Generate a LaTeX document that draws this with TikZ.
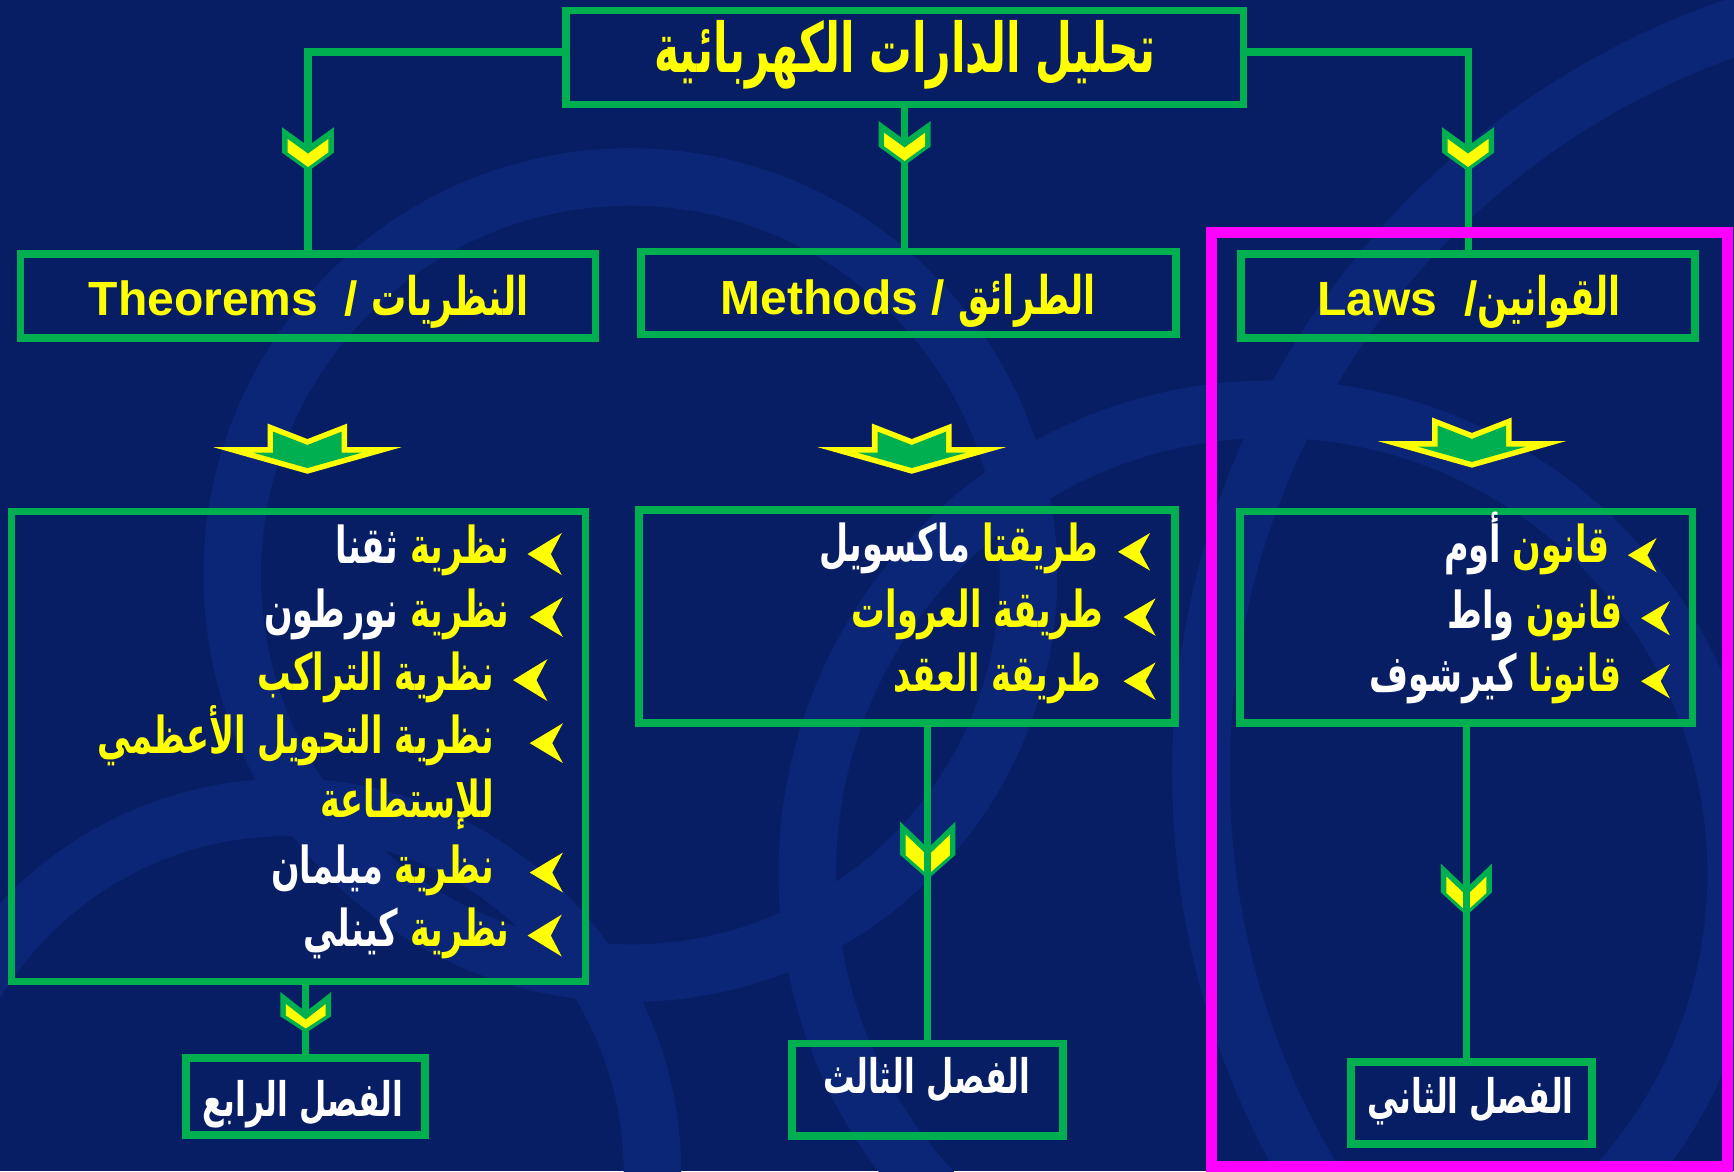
\documentclass[tikz,border=0pt]{standalone}
\usepackage{fontspec}
\setmainfont{Liberation Sans}
\newfontfamily\arabicfont[Script=Arabic, FakeStretch=0.66]{DejaVu Sans}
\newfontfamily\artitlefont[Script=Arabic, FakeStretch=0.62]{DejaVu Sans}
\TeXXeTstate=1
\usetikzlibrary{calc}

\definecolor{bgnavy}{HTML}{081E64}
\definecolor{bgband}{HTML}{0B2676}
\definecolor{boxgreen}{HTML}{00B050}
\definecolor{hiyellow}{HTML}{FFFF00}
\definecolor{hilite}{HTML}{FF00FF}

% Arabic run, bold, right to left
\newcommand{\ar}[1]{{\arabicfont\bfseries\beginR #1\endR}}
% two-word line: first word yellow (right), second word white (left)
\newcommand{\arpair}[2]{\textcolor{white}{\ar{#2}}{\arabicfont\bfseries\ }\textcolor{hiyellow}{\ar{#1}}}

% green frame given by its outer edges: name, x1, y1, x2, y2
\newcommand{\gbox}[5]{%
  \node[gbox, minimum width={(#4-#2-7)*0.5pt}, minimum height={(#5-#3-7)*0.5pt}]
    (#1) at ({(#2+#4)/2},{(#3+#5)/2}) {};}

% small green/yellow chevron: centre x, top y, half width, notch, side depth, tip depth
\newcommand{\chev}[6]{%
  \fill[boxgreen] ({#1-#3},#2) -- (#1,{#2+#4}) -- ({#1+#3},#2) -- ({#1+#3},{#2+#5})
     -- (#1,{#2+#6}) -- ({#1-#3},{#2+#5}) -- cycle;
  \fill[hiyellow] ({#1-#3+5},{#2+#4/#3*5+7}) -- (#1,{#2+#4+7}) -- ({#1+#3-5},{#2+#4/#3*5+7})
     -- ({#1+#3-5},{#2+#5+(#6-#5)/#3*5-4}) -- (#1,{#2+#6-4}) -- ({#1-#3+5},{#2+#5+(#6-#5)/#3*5-4}) -- cycle;}

% wide notched down arrow: centre x, top y
\newcommand{\bigarr}[2]{%
  \fill[hiyellow] ({#1-85},{#2+21.4}) -- ({#1-36},{#2+21.4}) -- ({#1-36},#2) -- (#1,{#2+14})
     -- ({#1+36},#2) -- ({#1+36},{#2+21.4}) -- ({#1+85},{#2+21.4}) -- (#1,{#2+45.4}) -- cycle;
  \fill[boxgreen] ({#1-48.9},{#2+26.4}) -- ({#1-31},{#2+26.4}) -- ({#1-31},{#2+7.3}) -- (#1,{#2+19.4})
     -- ({#1+31},{#2+7.3}) -- ({#1+31},{#2+26.4}) -- ({#1+48.9},{#2+26.4}) -- (#1,{#2+40.2}) -- cycle;}

% list bullet pointing left: tip x, tip y, length, half height
\newcommand{\bul}[4]{%
  \fill[hiyellow] (#1,#2) -- ({#1+#3},{#2-#4}) -- ({#1+0.68*#3},#2) -- ({#1+#3},{#2+#4}) -- cycle;}

\begin{document}
\begin{tikzpicture}[x=0.5pt, y=-0.5pt,
  gbox/.style={draw=boxgreen, line width=3.5pt, inner sep=0pt},
  conn/.style={draw=boxgreen, line width=3.2pt},
  band/.style={draw=bgband, line width=26pt},
  title/.style={inner sep=0pt, anchor=base, text=hiyellow, font=\fontsize{31}{34}\selectfont},
  head/.style={inner sep=0pt, anchor=base, text=hiyellow, font=\fontsize{21.7}{24}\selectfont\bfseries},
  item/.style={inner sep=0pt, anchor=base east, text=hiyellow, font=\fontsize{23}{26}\selectfont},
  chap/.style={inner sep=0pt, anchor=base, text=white, font=\fontsize{21.5}{24}\selectfont}]

% background with faint rings
\fill[bgnavy] (0,0) rectangle (1568,1059);
\useasboundingbox (0,0) rectangle (1568,1059);
\begin{scope}
  \clip (0,0) rectangle (1568,1059);
  \draw[band] (570,520) circle[radius=360];
  \draw[band] (1150,790) circle[radius=420];
  \draw[band] (260,1060) circle[radius=330];
  \draw[band] (1800,700) circle[radius=714];
\end{scope}

% frames
\gbox{top}{508}{6}{1128}{98}
\gbox{theo}{15}{226}{542}{309}
\gbox{meth}{576}{224}{1067}{306}
\gbox{laws}{1119}{226}{1536}{309}
\gbox{theolist}{7}{459}{533}{891}
\gbox{methlist}{574}{458}{1066}{657}
\gbox{lawslist}{1118}{459}{1534}{657}
\gbox{chfour}{165}{953}{388}{1030}
\gbox{chthree}{713}{940}{965}{1031}
\gbox{chtwo}{1218}{957}{1443}{1038}

% connectors lying behind their chevrons
\draw[conn] ([yshift=2.5pt]top.west) -| (theo.north);
\draw[conn] ([yshift=2.5pt]top.east) -| (laws.north);
\draw[conn] (top.south) -- (top.south |- meth.north);
\draw[conn] (chfour.north |- theolist.south) -- (chfour.north);

% chevrons on the connectors
\chev{278.5}{115}{23.5}{17}{23}{40}
\chev{818}{109.5}{23.5}{17}{23}{40}
\chev{1327.5}{115}{23.5}{17}{23}{40}
\chev{276.5}{897}{23}{18}{22}{37}
\chev{839}{743}{25}{24}{30}{52}
\chev{1326}{781}{23}{22}{26}{47}

% connectors drawn over their chevrons
\draw[conn] (chthree.north |- methlist.south) -- (chthree.north);
\draw[conn] (lawslist.south) -- (lawslist.south |- chtwo.north);

% wide arrows above the lists
\bigarr{278}{383}
\bigarr{824.5}{383}
\bigarr{1331}{377.5}

% headings
\node[title] (titletxt) at (818,66) {{\artitlefont\bfseries\beginR تحليل الدارات الكهربائية\endR}};
\node[head] (theotxt) at (279,285) {Theorems\ \ /\ {\fontsize{24}{26}\selectfont\ar{النظريات}}};
\node[head] (methtxt) at (821.5,284) {Methods / {\fontsize{24}{26}\selectfont\ar{الطرائق}}};
\node[head] (lawstxt) at (1328.5,285) {Laws\ \ /{\fontsize{24}{26}\selectfont\ar{القوانين}}};

% theorems list
\bul{477}{501}{31}{19}
\node[item] (th1) at (461,510) {\arpair{نظرية}{ثقنا}};
\bul{479}{558}{30}{18}
\node[item] (th2) at (461,567) {\arpair{نظرية}{نورطون}};
\bul{464}{615}{31}{19}
\node[item] (th3) at (447,624) {\ar{نظرية التراكب}};
\bul{479}{672}{30}{18}
\node[item] (th4) at (447,681) {\ar{نظرية التحويل الأعظمي}};
\node[item] (th5) at (447,739) {\ar{للإستطاعة}};
\bul{479}{789}{30}{18}
\node[item] (th6) at (447,799) {\arpair{نظرية}{ميلمان}};
\bul{477}{846}{31}{19}
\node[item] (th7) at (461,856) {\arpair{نظرية}{كينلي}};

% methods list
\bul{1011}{499}{29}{17}
\node[item] (me1) at (993,508) {\arpair{طريقتا}{ماكسويل}};
\bul{1016}{558}{29}{17}
\node[item] (me2) at (998,567) {\ar{طريقة العروات}};
\bul{1016}{616}{29}{17}
\node[item] (me3) at (996,625) {\ar{طريقة العقد}};

% laws list
\bul{1472}{502}{26}{15.5}
\node[item] (la1) at (1456,509) {\arpair{قانون}{أوم}};
\bul{1484}{559}{26}{15.5}
\node[item] (la2) at (1468,568) {\arpair{قانون}{واط}};
\bul{1484}{616}{26}{15.5}
\node[item] (la3) at (1467,625) {\arpair{قانونا}{كيرشوف}};

% chapter boxes
\node[chap] (ch4txt) at (274,1010) {\ar{الفصل الرابع}};
\node[chap] (ch3txt) at (838,989) {\ar{الفصل الثالث}};
\node[chap] (ch2txt) at (1330,1007) {\ar{الفصل الثاني}};

% highlight frame round the laws column
\draw[draw=hilite, line width=5pt] (1095.6,210) rectangle (1562.5,1054.5);
\end{tikzpicture}
\end{document}
